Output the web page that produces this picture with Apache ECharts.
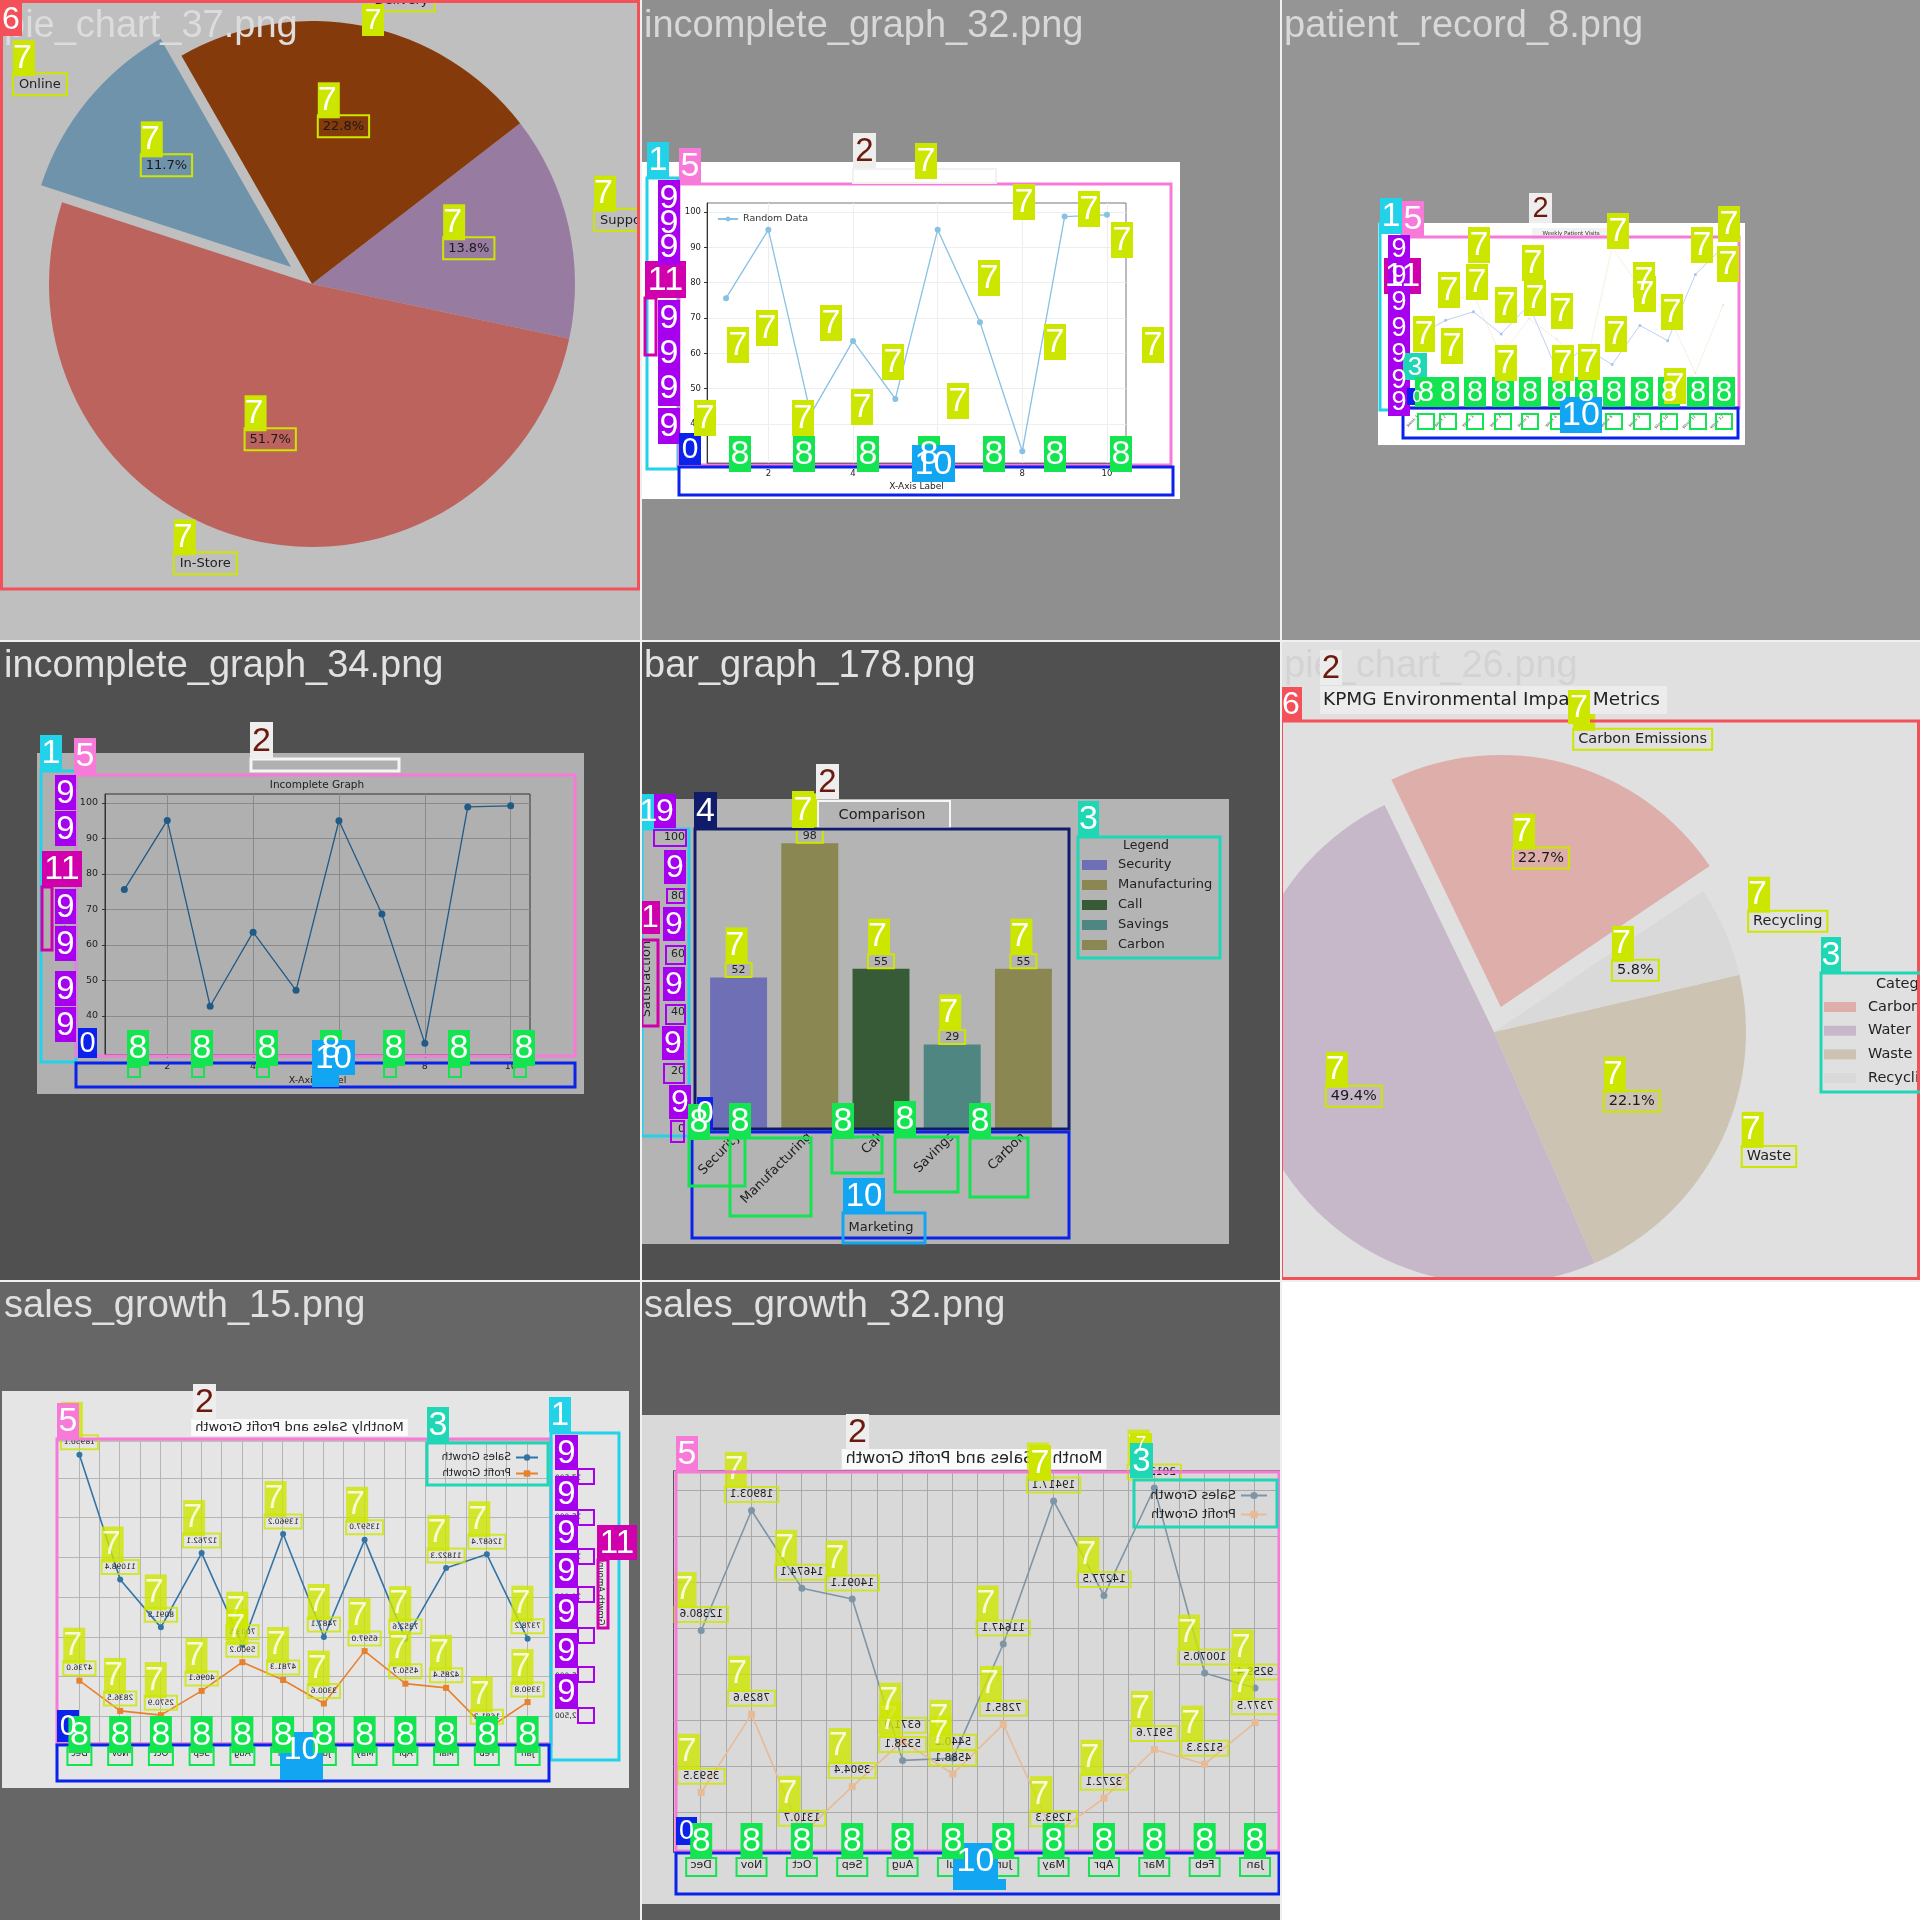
<!DOCTYPE html>
<html><head><meta charset="utf-8"><title>mosaic</title>
<script src="https://cdn.jsdelivr.net/npm/echarts@6.0.0/dist/echarts.min.js"></script>
<style>
html,body{margin:0;padding:0;width:1920px;height:1920px;overflow:hidden;background:#f2f2f2;}
.cell{position:absolute;width:640px;height:640px;overflow:hidden;}
.full{position:absolute;left:0;top:0;width:640px;height:640px;}
.mir{position:absolute;transform:scaleX(-1);}
.sep{position:absolute;background:#f0f0f0;z-index:10;}
</style></head><body>
<div class="cell" style="left:0;top:0;background:#bfbfbf"><div class="full" id="c1"></div></div>
<div class="cell" style="left:640px;top:0;background:#8f8f8f"><div class="full" id="c2"></div></div>
<div class="cell" style="left:1280px;top:0;background:#959595"><div class="full" id="c3"></div></div>
<div class="cell" style="left:0;top:640px;background:#505050"><div class="full" id="c4"></div></div>
<div class="cell" style="left:640px;top:640px;background:#505050"><div class="full" id="c5"></div></div>
<div class="cell" style="left:1280px;top:640px;background:#e0e0e0"><div class="full" id="c6"></div></div>
<div class="cell" style="left:0;top:1280px;background:#666666"><div class="mir" id="c7m" style="left:2px;top:111px;width:627px;height:397px;background:#e5e5e5"></div><div class="full" id="c7"></div></div>
<div class="cell" style="left:640px;top:1280px;background:#5e5e5e"><div class="mir" id="c8m" style="left:2px;top:135px;width:700px;height:489px;background:#d9d9d9"></div><div class="full" id="c8"></div></div>
<div class="cell" style="left:1280px;top:1280px;background:#ffffff"></div>
<div class="sep" style="left:640px;top:0;width:2px;height:1920px"></div>
<div class="sep" style="left:1280px;top:0;width:2px;height:1920px"></div>
<div class="sep" style="left:0;top:640px;width:1920px;height:2px"></div>
<div class="sep" style="left:0;top:1280px;width:1920px;height:2px"></div>
<script>
// ---------------- DATA ----------------
const c1Names = ['Support', 'Delivery', 'Online', 'In-Store'];
const c1Values = [13.8, 22.8, 11.7, 51.7];

const c2X = [1, 2, 3, 4, 5, 6, 7, 8, 9, 10];
const c2Y = [75.6, 95.0, 42.8, 63.5, 47.1, 95.0, 68.8, 32.3, 98.7, 99.2];
const c2XTicks = [2, 4, 6, 8, 10];
const c2YTicks = [40, 50, 60, 70, 80, 90, 100];

const c3Weeks = ['Week 1', 'Week 2', 'Week 3', 'Week 4', 'Week 5', 'Week 6', 'Week 7', 'Week 8', 'Week 9', 'Week 10', 'Week 11', 'Week 12'];
const c3Visits = [42, 51, 56, 43, 60, 22, 35, 25, 48, 39, 78, 94];
const c3Other = [45, 62, 66, 30, 52, 40, 20, 94, 70, 55, 20, 60];

const c4X = [1, 2, 3, 4, 5, 6, 7, 8, 9, 10];
const c4Y = [75.6, 95.1, 42.7, 63.6, 47.2, 95.0, 68.7, 32.3, 98.9, 99.2];
const c4XTicks = [2, 4, 6, 8, 10];
const c4YTicks = [40, 50, 60, 70, 80, 90, 100];

const c5Cats = ['Security', 'Manufacturing', 'Call', 'Savings', 'Carbon'];
const c5Vals = [52, 98, 55, 29, 55];
const c5YTicks = [0, 20, 40, 60, 80, 100];

const c6Names = ['Carbon Emissions', 'Water', 'Waste', 'Recycling'];
const c6Values = [22.7, 49.4, 22.1, 5.8];

const months = ['Jan', 'Feb', 'Mar', 'Apr', 'May', 'Jun', 'Jul', 'Aug', 'Sep', 'Oct', 'Nov', 'Dec'];
const c7Sales = [7378.2, 12687.4, 11822.3, 7352.6, 13597.0, 7487.1, 13960.2, 7003.5, 12762.1, 8091.5, 11098.4, 18950.1];
const c7Profit = [3390.8, 1681.2, 4285.4, 4550.7, 6597.0, 3300.6, 4781.3, 5900.2, 4096.1, 2570.9, 2836.5, 4736.0];
const c7YTicks = [2500, 5000, 7500, 10000, 12500, 15000, 17500];
const c8Sales = [9259.4, 10070.5, 20120.3, 14277.5, 19417.1, 11647.1, 5440.2, 5328.1, 14091.1, 14674.1, 18903.1, 12380.6];
const c8Profit = [7377.5, 5123.3, 5917.6, 3272.1, 1293.3, 7285.1, 4588.1, 6371.0, 3904.4, 1310.7, 7829.6, 3593.5];
const c8YTicks = [2500, 5000, 7500, 10000, 12500, 15000, 17500, 20000];
const monthTicks = [0, 1, 2, 3, 4, 5, 6, 7, 8, 9, 10, 11];
const halfMonthGrid = [0, 0.5, 1, 1.5, 2, 2.5, 3, 3.5, 4, 4.5, 5, 5.5, 6, 6.5, 7, 7.5, 8, 8.5, 9, 9.5, 10, 10.5, 11];

// ---------------- STYLES ----------------
const c1Colors = ['#977ba0', '#843a0a', '#6e93ab', '#bc635e'];
const c5Colors = ['#6f6fb6', '#8a8752', '#365b36', '#4f8682', '#8a8752'];
const c6Colors = ['#deaeaa', '#c6b8c9', '#ccc3b3', '#d9d9d9'];
const F = 'DejaVu Sans';
const FT = 'Liberation Sans';
const Y = '#cde600', G = '#14e450', P = '#a600ee', C = '#22d2e8', K = '#f77ad8', T = '#1fd6b5',
      N = '#101c6a', B = '#0b22ea', L = '#12a6f2', M = '#d000ad', R = '#f4505a', W2 = '#eeeeee', D2 = '#6b1a0d';

function tag(x, y, t, bg, w, h, fg) {
  w = w || 22; h = h || 36; const fs = Math.min(34, Math.round(h * 0.95));
  return {type: 'group', x: x, y: y, z: 100, silent: true, children: [
    {type: 'rect', z: 100, shape: {x: 0, y: 0, width: w, height: h}, style: {fill: bg}},
    {type: 'text', z: 101, x: w / 2, y: h / 2 + 1, style: {text: t, fill: fg || '#ffffff', font: fs + 'px "' + FT + '"',
      align: 'center', verticalAlign: 'middle', textAlign: 'center', textVerticalAlign: 'middle'}}]};
}
function box(x1, y1, x2, y2, c, lw) {
  return {type: 'rect', z: 99, silent: true, shape: {x: x1, y: y1, width: x2 - x1, height: y2 - y1},
    style: {fill: 'rgba(0,0,0,0)', stroke: c, lineWidth: lw || 3}};
}
function fill(x1, y1, x2, y2, c, z) {
  return {type: 'rect', z: (z == null ? -10 : z), silent: true, shape: {x: x1, y: y1, width: x2 - x1, height: y2 - y1}, style: {fill: c}};
}
function txt(x, y, s, fs, c, al, z, rot, fam) {
  return {type: 'text', x: x, y: y, z: (z == null ? 50 : z), rotation: rot || 0, silent: true,
    style: {text: s, fill: c, font: fs + 'px "' + (fam || F) + '"', align: al || 'left', verticalAlign: 'middle',
      textAlign: al || 'left', textVerticalAlign: 'middle'}};
}
function cellTitle(s, c) { return txt(4, 27, s, 38, c, 'left', 95, 0, FT); }

const RT = {width: 22, height: 36, lineHeight: 36, fontSize: 34, fontFamily: FT, color: '#ffffff', backgroundColor: Y, align: 'left'};
const RE = {height: 36, lineHeight: 36, width: 1, fontSize: 2, align: 'left'};
function RV(fs, pad, col, border) {
  const o = {fontSize: fs, fontFamily: F, color: col, padding: pad, align: 'left', lineHeight: Math.round(fs * 1.2)};
  if (border) { o.borderColor = Y; o.borderWidth = 2; }
  return o;
}

function pieBuild(names, vals, colors, o) {
  const tot = vals.reduce((a, b) => a + b, 0);
  let acc = 0, mid = 0;
  vals.forEach((v, i) => { if (i === o.exp) mid = o.start + (acc + v / 2) / tot * 360; acc += v; });
  const a = mid * Math.PI / 180, ex = o.cx + o.ed * Math.cos(a), ey = o.cy - o.ed * Math.sin(a);
  const out = [];
  [[o.cx, o.cy, false], [ex, ey, true]].forEach(function (c) {
    const vis = i => c[2] ? i === o.exp : i !== o.exp;
    const base = {type: 'pie', center: [c[0], c[1]], startAngle: o.start, clockwise: false, avoidLabelOverlap: false,
      silent: true, animation: false, emphasis: {disabled: true}, itemStyle: {borderWidth: 0},
      labelLine: {show: false, length: o.r * 0.1, length2: 0}};
    out.push(Object.assign({}, base, {radius: o.r, z: 2,
      label: {show: true, position: 'outside', distanceToLabelLine: 0, overflow: 'none',
        formatter: p => '{t|7}\n{v|' + p.name + '}\n{e| }', rich: {t: RT, v: RV(o.fs, o.np, '#222', true), e: RE}},
      data: vals.map((v, i) => ({value: v, name: names[i], itemStyle: {color: vis(i) ? colors[i] : 'rgba(0,0,0,0)'}, label: {show: vis(i)}}))}));
    out.push(Object.assign({}, base, {radius: [o.r * 0.4, o.r * 0.8], z: 3,
      label: {show: true, position: 'inside', overflow: 'none',
        formatter: p => '{t|7}\n{v|' + (p.value / tot * 100).toFixed(1) + '%}\n{e| }', rich: {t: RT, v: RV(o.pfs, o.pp, '#1a1a1a', true), e: RE}},
      data: vals.map((v, i) => ({value: v, name: names[i], itemStyle: {color: 'rgba(0,0,0,0)'}, label: {show: vis(i)}}))}));
  });
  return out;
}

function mk(id) { return echarts.init(document.getElementById(id), null, {renderer: 'canvas'}); }

// ---------------- CELL 1 ----------------
(function () {
  const g = [cellTitle('pie_chart_37.png', '#dcdcdc'), box(1.5, 1.5, 638.5, 589, R), tag(0, 2, '6', R, 22, 34), tag(362, 4, '7', Y, 22, 32)];
  mk('c1').setOption({animation: false, textStyle: {fontFamily: F},
    series: pieBuild(c1Names, c1Values, c1Colors, {cx: 312, cy: 284, r: 263, start: -12, exp: 2, ed: 27, fs: 13, np: [5, 6, 4, 6], pfs: 13, pp: [5, 5, 4, 5]}),
    graphic: {elements: g}});
})();

// ---------------- line helper for cells 2 & 4 ----------------
function incOption(o) {
  const lo = Math.min(...o.y), hi = Math.max(...o.y), py = (hi - lo) * 0.05;
  const xl = Math.min(...o.x), xh = Math.max(...o.x), px = (xh - xl) * 0.05;
  return {animation: false, textStyle: {fontFamily: F},
    grid: {left: o.gl, top: o.gt, width: o.gw, height: o.gh, show: true, borderColor: o.border, borderWidth: 1, backgroundColor: o.bg, outerBoundsMode: 'none'},
    xAxis: {type: 'value', min: xl - px, max: xh + px, name: 'X-Axis Label', nameLocation: 'middle', nameGap: o.xng,
      nameTextStyle: {fontSize: o.nfs, color: '#222'},
      axisLine: {show: true, onZero: false, lineStyle: {color: '#333'}},
      axisTick: {show: true, length: 3, customValues: o.xt, lineStyle: {color: '#333'}},
      axisLabel: {customValues: o.xt, fontSize: o.lfs, color: '#222', margin: o.xm},
      splitLine: {show: true, lineStyle: {color: o.gc, width: 1}}},
    yAxis: {type: 'value', min: lo - py, max: hi + py, name: 'Y-Axis Label', nameLocation: 'middle', nameGap: o.yng,
      nameTextStyle: {fontSize: o.nfs, color: '#222'},
      axisLine: {show: true, lineStyle: {color: '#333'}},
      axisTick: {show: true, length: 3, customValues: o.yt, lineStyle: {color: '#333'}},
      axisLabel: {customValues: o.yt, fontSize: o.lfs, color: '#222', margin: o.ym},
      splitLine: {show: true, lineStyle: {color: o.gc, width: 1}}},
    series: [{type: 'line', name: o.name, data: o.x.map((x, i) => [x, o.y[i]]), symbol: 'circle', symbolSize: o.ss,
      lineStyle: {color: o.lc, width: 1.3}, itemStyle: {color: o.lc}, silent: true}]};
}

// ---------------- CELL 2 ----------------
(function () {
  const opt = incOption({x: c2X, y: c2Y, xt: c2XTicks, yt: c2YTicks, gl: 67, gt: 203, gw: 419, gh: 260, border: '#777', bg: '#ffffff',
    gc: '#eeeeee', xng: 19, yng: 24, nfs: 9, lfs: 8.5, xm: 6, ym: 6, ss: 6, lc: '#87c1e3', name: 'Random Data'});
  opt.legend = {left: 72, top: 209, itemWidth: 20, itemHeight: 6, textStyle: {fontSize: 9.5, color: '#333'}, data: ['Random Data']};
  const g = [fill(2, 162, 540, 499, '#ffffff'), cellTitle('incomplete_graph_32.png', '#d8d8d8'),
    box(7, 178, 38, 469, C), tag(7, 142, '1', C), box(39, 184, 531, 465, K), tag(39, 148, '5', K),
    box(213, 169, 356, 183, '#f2f2f2', 2), tag(213, 133, '2', W2, 23, 35, D2),
    box(5, 298, 16, 355, M), tag(5, 261, '11', M, 41, 37)];
  [180, 205, 229, 300, 335, 370, 408].forEach(y => g.push(tag(18, y, '9', P)));
  g.push(tag(39, 433, '0', B, 22, 32), box(39, 467, 533, 495, B));
  [89, 153, 217, 278, 343, 404, 470].forEach(x => g.push(tag(x, 436, '8', G)));
  g.push(tag(272, 445, '10', L, 43, 37));
  [[87, 327], [116, 310], [180, 305], [242, 344], [54, 400], [152, 400], [211, 389], [307, 383], [338, 260], [373, 184],
   [438, 191], [471, 222], [404, 324], [502, 327], [275, 143]].forEach(p => g.push(tag(p[0], p[1], '7', Y)));
  opt.graphic = {elements: g};
  mk('c2').setOption(opt);
})();

// ---------------- CELL 3 ----------------
(function () {
  const g = [fill(98, 223, 465, 445, '#ffffff'), cellTitle('patient_record_8.png', '#d8d8d8'),
    fill(252, 228, 330, 240, '#f2f2f2', 40), txt(291, 234, 'Weekly Patient Visits', 5.5, '#333', 'center', 41),
    box(100, 223, 122, 410, C), tag(100, 198, '1', C), box(122, 237, 459, 408, K), tag(122, 201, '5', K),
    tag(104, 258, '11', M, 37, 36)];
  [235, 262, 288, 314, 340, 366, 388].forEach(y => g.push(tag(108, y, '9', P, 22, 28)));
  g.push(tag(249, 193, '2', W2, 23, 30, D2), tag(123, 353, '3', T, 24, 27), box(122, 390, 163, 408, T, 2), tag(127, 388, '0', B, 20, 17),
    box(123, 408, 458, 438, B));
  [135, 157, 184, 212, 239, 268, 295, 323, 351, 378, 407, 433].forEach(x => { g.push(tag(x, 377, '8', G, 22, 30)); g.push(box(x + 3, 414, x + 19, 429, G, 2)); });
  g.push(tag(280, 397, '10', L, 42, 36));
  [[188, 227], [158, 272], [186, 264], [242, 245], [215, 287], [244, 280], [271, 293], [133, 316], [161, 328], [215, 345], [272, 345],
   [298, 344], [325, 316], [327, 213], [353, 262], [354, 276], [381, 294], [411, 227], [438, 206], [437, 246], [384, 368]]
    .forEach(p => g.push(tag(p[0], p[1], '7', Y)));
  mk('c3').setOption({animation: false, textStyle: {fontFamily: F},
    grid: {left: 124, top: 237, width: 333, height: 170, outerBoundsMode: 'none'},
    xAxis: {type: 'category', data: c3Weeks, axisLine: {lineStyle: {color: '#cccccc'}}, axisTick: {show: false},
      axisLabel: {fontSize: 4, rotate: 45, color: '#555', margin: 9, interval: 0}},
    yAxis: {type: 'value', min: 0, max: 100, axisLine: {show: false}, axisLabel: {fontSize: 4, color: '#555'}, splitLine: {show: false}},
    series: [{type: 'line', data: c3Visits, symbol: 'circle', symbolSize: 3, lineStyle: {color: '#bcd2f2', width: 1}, itemStyle: {color: '#a8c4ee'}, silent: true},
             {type: 'line', data: c3Other, symbol: 'circle', symbolSize: 2, lineStyle: {color: '#f4e0c4', width: 1, type: 'dotted'}, itemStyle: {color: '#f4e0c4'}, silent: true}],
    graphic: {elements: g}});
})();

// ---------------- CELL 4 ----------------
(function () {
  const opt = incOption({x: c4X, y: c4Y, xt: c4XTicks, yt: c4YTicks, gl: 105, gt: 154, gw: 425, gh: 261, border: '#333', bg: '#b0b0b0',
    gc: '#8a8a8a', xng: 21, yng: 28, nfs: 9.5, lfs: 9.5, xm: 7, ym: 7, ss: 7, lc: '#225a86', name: 'Data'});
  const g = [fill(37, 113, 584, 454, '#b0b0b0'), cellTitle('incomplete_graph_34.png', '#e2e2e2'), txt(317, 145, 'Incomplete Graph', 10.5, '#222', 'center'),
    box(41, 131, 76, 422, C), tag(40, 95, '1', C), box(76, 135, 575, 416, K), tag(74, 98, '5', K),
    box(251, 119, 399, 131, '#f5f5f5', 3), tag(250, 82, '2', W2, 23, 37, D2),
    box(42, 247, 52, 310, M), tag(42, 211, '11', M, 40, 36)];
  [135, 171, 249, 286, 331, 367].forEach(y => g.push(tag(55, y, '9', P, 21, 35)));
  g.push(tag(78, 388, '0', B, 19, 30), box(76, 423, 575, 447, B));
  [127, 191, 256, 320, 383, 448, 513].forEach(x => { g.push(tag(x, 390, '8', G)); g.push(box(x + 1, 427, x + 13, 437, G, 2)); });
  g.push(tag(312, 400, '10', L, 43, 35), fill(312, 435, 339, 447, L, 99));
  opt.graphic = {elements: g};
  mk('c4').setOption(opt);
})();

// ---------------- CELL 5 ----------------
(function () {
  const g = [fill(2, 159, 589, 604, '#b4b4b4'), cellTitle('bar_graph_178.png', '#e2e2e2'),
    txt(242, 175, 'Comparison', 14.5, '#222', 'center'), box(178, 161, 310, 188, '#f6f6f6', 2), tag(176, 124, '2', W2, 23, 35, D2),
    box(55, 189, 429, 489, N), tag(54, 152, '4', N, 23, 37), box(2, 189, 49, 496, C), tag(2, 154, '1', C, 13, 34)];
  [[14, 154], [24, 210], [23, 267], [23, 327], [22, 386], [29, 445]].forEach(p => g.push(tag(p[0], p[1], '9', P, 22, 34)));
  [[14, 190, 46, 206], [27, 249, 44, 263], [26, 306, 45, 324], [26, 365, 45, 384], [24, 424, 44, 443], [31, 481, 44, 502]]
    .forEach(b => g.push(box(b[0], b[1], b[2], b[3], P, 2)));
  g.push(tag(0, 261, '1', M, 20, 33), box(2, 300, 18, 386, M), box(52, 492, 429, 598, B), tag(57, 457, '0', B, 16, 33));
  [[49, 498, 105, 546], [90, 498, 171, 576], [192, 497, 242, 533], [255, 497, 318, 552], [330, 498, 388, 557]].forEach(b => g.push(box(b[0], b[1], b[2], b[3], G, 3)));
  [[48, 464], [89, 463], [192, 463], [254, 461], [329, 463]].forEach(p => g.push(tag(p[0], p[1], '8', G)));
  g.push(tag(203, 538, '10', L, 42, 35), box(203, 573, 285, 603, L, 3), tag(152, 151, '7', Y, 22, 37));
  g.push(box(438, 197, 580, 318, T), tag(438, 161, '3', T, 21, 36), txt(506, 206, 'Legend', 12.5, '#222', 'center'));
  c5Cats.forEach((n, i) => { g.push(fill(442, 220 + 20 * i, 467, 230 + 20 * i, c5Colors[i], 60)); g.push(txt(478, 225 + 20 * i, n, 13, '#222', 'left')); });
  mk('c5').setOption({animation: false, textStyle: {fontFamily: F},
    grid: {left: 63, top: 189, width: 356, height: 300, outerBoundsMode: 'none'},
    xAxis: {type: 'category', data: c5Cats, name: 'Marketing', nameLocation: 'middle', nameGap: 92, nameTextStyle: {fontSize: 13, color: '#222'},
      axisLine: {show: true, lineStyle: {color: '#222'}}, axisTick: {alignWithLabel: true, length: 3, lineStyle: {color: '#222'}},
      axisLabel: {rotate: 45, fontSize: 13, color: '#222', margin: 6, interval: 0}},
    yAxis: {type: 'value', min: 0, max: Math.max(...c5Vals) * 1.05, name: 'Satisfaction', nameLocation: 'middle', nameGap: 47,
      nameTextStyle: {fontSize: 13, color: '#222'}, axisLine: {show: false}, axisTick: {show: false, customValues: c5YTicks},
      axisLabel: {customValues: c5YTicks, fontSize: 11, color: '#222', margin: 18}, splitLine: {show: false}},
    series: [{type: 'bar', barWidth: '80%', silent: true, data: c5Vals.map((v, i) => ({value: v, itemStyle: {color: c5Colors[i]}})),
      label: {show: true, position: 'top', distance: 1, formatter: p => '{t|7}\n{v|' + p.value + '}', rich: {t: RT, v: RV(11, [2, 6, 1, 6], '#222', true)}}}],
    graphic: {elements: g}});
})();

// ---------------- CELL 6 ----------------
(function () {
  const g = [cellTitle('pie_chart_26.png', '#d3d3d3'), fill(40, 46, 387, 74, '#ececec', 96),
    txt(43, 60, 'KPMG Environmental Impact Metrics', 18.5, '#222', 'left', 97),
    tag(40, 10, '2', '#ececec', 22, 35, D2), tag(288, 50, '7', Y, 22, 34), box(1.5, 81, 638.5, 638.5, R), tag(0, 47, '6', R, 22, 34),
    box(541, 333, 645, 452, T), tag(541, 297, '3', T, 20, 36), txt(635, 344, 'Categories', 14.5, '#222', 'center')];
  c6Names.forEach((n, i) => { g.push(fill(544, 362 + 23.7 * i, 576, 372 + 23.7 * i, c6Colors[i], 60)); g.push(txt(588, 367 + 23.7 * i, n, 14.5, '#222', 'left')); });
  mk('c6').setOption({animation: false, textStyle: {fontFamily: F},
    series: pieBuild(c6Names, c6Values, c6Colors, {cx: 214, cy: 392, r: 252, start: 34, exp: 0, ed: 26, fs: 14.5, np: [3, 5, 3, 5], pfs: 14.5, pp: [3, 5, 3, 5]}),
    graphic: {elements: g}});
})();

// ---------------- CELLS 7 & 8 (mirrored image + overlay) ----------------
function salesPair(mid, ovid, cfg) {
  const all = cfg.sales.concat(cfg.profit);
  const lo = Math.min(...all), hi = Math.max(...all), pad = (hi - lo) * 0.05;
  const yMin = lo - pad, yMax = hi + pad, xMin = -0.55, xMax = cfg.sales.length - 1 + 0.55;
  const xs = cfg.sales.map((v, i) => i);
  const fmt = v => v.toFixed(1);
  const vStyle = (col, border) => {
    const o = {fontSize: cfg.lfs, fontFamily: F, color: col, padding: cfg.lpad, lineHeight: Math.round(cfg.lfs * 1.2), align: 'left'};
    if (border) { o.borderColor = Y; o.borderWidth = 2; }
    return o;
  };
  const lineS = (name, arr, col, sym) => ({name: name, type: 'line', data: xs.map(i => [i, arr[i]]), symbol: sym, symbolSize: cfg.ss,
    lineStyle: {color: col, width: 1.6}, itemStyle: {color: col}, silent: true,
    label: {show: true, position: 'top', distance: cfg.ld, formatter: p => '{v|' + fmt(p.value[1]) + '}', rich: {v: vStyle('#222', false)}}});
  const mOpt = {animation: false, textStyle: {fontFamily: F},
    title: {text: 'Monthly Sales and Profit Growth', left: (cfg.gl + cfg.W - cfg.gr) / 2, textAlign: 'center', top: cfg.tt, padding: [2, 4],
      backgroundColor: 'rgba(255,255,255,0.85)', textStyle: {fontSize: cfg.tfs, fontWeight: 'normal', color: '#222', fontFamily: F}},
    legend: {left: cfg.legL, top: cfg.legT, orient: 'vertical', itemGap: cfg.legGap, itemWidth: cfg.legIW, itemHeight: cfg.legIH,
      textStyle: {fontSize: cfg.legFs, color: '#222'}, data: ['Sales Growth', 'Profit Growth']},
    grid: {left: cfg.gl, right: cfg.gr, top: cfg.gt, bottom: cfg.gb, show: true, borderColor: cfg.bc, borderWidth: 1, outerBoundsMode: 'none'},
    xAxis: {type: 'value', min: xMin, max: xMax, name: 'Months', nameLocation: 'middle', nameGap: cfg.xng, nameTextStyle: {fontSize: cfg.nfs, color: '#222'},
      axisLine: {show: true, onZero: false, lineStyle: {color: cfg.bc}}, axisTick: {show: false, customValues: halfMonthGrid},
      axisLabel: {customValues: monthTicks, formatter: v => months[Math.round(v)], fontSize: cfg.xfs, color: '#222', margin: cfg.xm},
      splitLine: {show: true, lineStyle: {color: cfg.gc, width: 1}}},
    yAxis: {type: 'value', min: yMin, max: yMax, name: cfg.yname, nameLocation: 'middle', nameGap: cfg.yng, nameTextStyle: {fontSize: cfg.nfs, color: '#222'},
      axisLine: {show: false}, axisTick: {show: false, customValues: cfg.yticks},
      axisLabel: {customValues: cfg.yticks, fontSize: cfg.yfs, color: '#222', margin: cfg.ym},
      splitLine: {show: true, lineStyle: {color: cfg.gc, width: 1}}},
    series: [lineS('Sales Growth', cfg.sales, cfg.sc, 'circle'), lineS('Profit Growth', cfg.profit, cfg.pc, 'rect')]};
  mk(mid).setOption(mOpt);
  const oOpt = {animation: false, textStyle: {fontFamily: F},
    grid: {left: cfg.dl + cfg.gr, top: cfg.dt + cfg.gt, width: cfg.W - cfg.gl - cfg.gr, height: cfg.H - cfg.gt - cfg.gb, outerBoundsMode: 'none'},
    xAxis: {type: 'value', min: xMin, max: xMax, inverse: true, show: false},
    yAxis: {type: 'value', min: yMin, max: yMax, show: false},
    series: [cfg.sales, cfg.profit].map((arr, k) => ({type: 'scatter', data: xs.map(i => [i, arr[i]]), symbol: k ? 'rect' : 'circle',
      symbolSize: cfg.ss, itemStyle: {color: 'rgba(0,0,0,0)'}, silent: true,
      label: {show: true, position: 'top', distance: cfg.ld, formatter: p => '{t|7}\n{v|' + fmt(p.value[1]) + '}', rich: {t: RT, v: vStyle('rgba(0,0,0,0)', true)}}}))};
  const co = mk(ovid);
  co.setOption(oOpt);
  const g = cfg.graphics.slice();
  xs.forEach(i => {
    const px = co.convertToPixel({xAxisIndex: 0}, i);
    g.push(box(px - cfg.lbw / 2, cfg.lby1, px + cfg.lbw / 2, cfg.lby2, G, 2));
    g.push(tag(px - 11, cfg.tagY, '8', G, 22, cfg.tagH));
  });
  co.setOption({graphic: {elements: g}});
}

(function () {
  const g = [cellTitle('sales_growth_15.png', '#e0e0e0'), box(57, 159, 551, 464, K), tag(57, 123, '5', K), tag(193, 104, '2', W2, 23, 36, D2),
    tag(427, 127, '3', T), box(427, 163, 548, 205, T), tag(549, 117, '1', C, 22, 35), box(551, 153, 619, 480, C)];
  [155, 196, 235, 273, 314, 353, 394].forEach(y => { g.push(tag(555, y, '9', P, 23, 35)); g.push(box(578, y + 34, 594, y + 49, P, 2)); });
  g.push(tag(597, 245, '11', M, 40, 35), box(598, 280, 608, 348, M), tag(57, 430, '0', B, 22, 32), box(57, 465, 549, 501, B),
    tag(280, 452, '10', L, 43, 34), fill(280, 486, 323, 500, L, 99));
  salesPair('c7m', 'c7', {sales: c7Sales, profit: c7Profit, yticks: c7YTicks,
    W: 627, H: 397, dl: 2, dt: 111, gl: 79, gr: 55, gt: 50, gb: 45,
    tt: 28, tfs: 13, legL: 85, legT: 56, legFs: 10.5, legIW: 22, legIH: 8, legGap: 5,
    xfs: 8.5, xm: 6, xng: 24, nfs: 8.5, yfs: 7.5, ym: 5, yname: 'Growth Amount', yng: 46,
    gc: '#b5b5b5', bc: '#999999', ss: 6, sc: '#3274a6', pc: '#e8812c', lfs: 7.5, lpad: [3, 3, 3, 3], ld: 5,
    tagY: 436, tagH: 37, lbw: 24, lby1: 467, lby2: 485, graphics: g});
})();

(function () {
  const g = [cellTitle('sales_growth_32.png', '#e0e0e0'), box(36, 192, 639, 571, K), tag(36, 156, '5', K), tag(206, 134, '2', W2, 23, 36, D2),
    tag(389, 165, '7', Y), tag(490, 153, '7', Y, 22, 20), tag(490, 163, '3', T, 23, 35), box(494, 200, 637, 247, T),
    tag(36, 537, '0', B, 21, 28), box(36, 573, 639, 614, B), tag(313, 563, '10', L, 45, 36), fill(313, 599, 366, 610, L, 99)];
  salesPair('c8m', 'c8', {sales: c8Sales, profit: c8Profit, yticks: c8YTicks,
    W: 700, H: 489, dl: 2, dt: 135, gl: 59.3, gr: 31.5, gt: 55.7, gb: 52,
    tt: 34, tfs: 16, legL: 69, legT: 69, legFs: 13, legIW: 26, legIH: 9, legGap: 6,
    xfs: 11, xm: 8, xng: 26, nfs: 10, yfs: 10, ym: 5, yname: 'Amount', yng: 50,
    gc: '#a9a9a9', bc: '#555555', ss: 7, sc: '#7e95a6', pc: '#e8bb97', lfs: 10.5, lpad: [2, 5, 2, 5], ld: 6,
    tagY: 543, tagH: 36, lbw: 30, lby1: 578, lby2: 596, graphics: g});
})();
</script>
</body></html>
